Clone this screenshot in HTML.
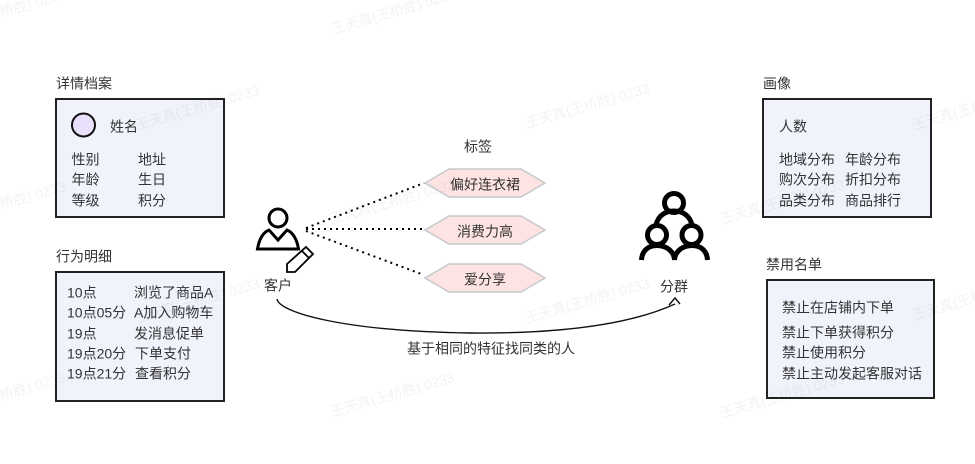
<!DOCTYPE html>
<html><head><meta charset="utf-8"><style>
html,body{margin:0;padding:0;background:#fff}
svg{display:block}
text{font-family:"Liberation Sans","Noto Sans CJK SC",sans-serif;font-size:14px;fill:#333}
text:not(.w){transform:translateY(-0.5px)}
.w{font-size:14px;fill:rgba(0,0,0,.05)}
</style></head><body>
<svg width="975" height="464" viewBox="0 0 975 464" xmlns="http://www.w3.org/2000/svg">

<!-- 详情档案 -->
<text x="56" y="89">详情档案</text>
<rect x="56" y="99" width="168" height="118" fill="#f0f3fc" stroke="#222" stroke-width="2"/>
<circle cx="83.500" cy="125" r="11.500" fill="#e9e0fb" stroke="#111" stroke-width="2"/>
<text x="110" y="132">姓名</text>
<text x="71.500" y="165">性别</text><text x="138" y="165">地址</text>
<text x="71.500" y="185">年龄</text><text x="138" y="185">生日</text>
<text x="71.500" y="206">等级</text><text x="138" y="206">积分</text>

<!-- 行为明细 -->
<text x="56" y="262">行为明细</text>
<rect x="56" y="272" width="168" height="129" fill="#f0f3fc" stroke="#222" stroke-width="2"/>
<text x="67" y="298">10点</text><text x="134" y="298">浏览了商品A</text>
<text x="67" y="318">10点05分</text><text x="134" y="318">A加入购物车</text>
<text x="67" y="339">19点</text><text x="134" y="339">发消息促单</text>
<text x="67" y="359">19点20分</text><text x="135" y="359">下单支付</text>
<text x="67" y="379">19点21分</text><text x="135" y="379">查看积分</text>

<!-- 客户 icon -->
<circle cx="278" cy="218" r="9" fill="none" stroke="#000" stroke-width="3"/>
<path d="M257.500 249 C259 240 262 233 269 230 L278 240 L287 230 C294 233 297 240 298.500 249 Z" fill="none" stroke="#000" stroke-width="3"/>
<path d="M287 272 L287 264 L306 247 L313 254 L295 272 Z" fill="#fff" stroke="#000" stroke-width="1.800"/>
<path d="M302 251 L309 258" fill="none" stroke="#000" stroke-width="1.800"/>
<text x="264" y="291">客户</text>

<!-- dotted lines -->
<g fill="none" stroke="#000" stroke-width="2" stroke-dasharray="2 4">
<path d="M306 228 L424 183"/>
<path d="M306 229 L424 229"/>
<path d="M306 231 L424 275"/>
</g>

<!-- 标签 -->
<text x="464" y="152">标签</text>
<g fill="#fde3e1" stroke="#c6c8cc" stroke-width="1.500">
<polygon points="425,183 449,169 521,169 545,183 521,197 449,197"/>
<polygon points="425,230 449,216 521,216 545,230 521,244 449,244"/>
<polygon points="425,278 449,264 521,264 545,278 521,292 449,292"/>
</g>
<text x="450" y="190">偏好连衣裙</text>
<text x="457" y="237">消费力高</text>
<text x="464" y="285">爱分享</text>

<!-- 分群 icon -->
<g fill="none" stroke="#000" stroke-width="5">
<circle cx="674" cy="203" r="9.500"/>
<circle cx="657" cy="235" r="9.500"/>
<circle cx="691.500" cy="235" r="9.500"/>
<path d="M656 225 C658 216 665 211 674 211 C683 211 690 216 692 225"/>
<path d="M641.500 260 C642 251 648 245.500 657 245.500 C666 245.500 674 251 674.500 260 C675 251 683 245.500 692 245.500 C701 245.500 707 251 707.500 260"/>
</g>
<text x="660" y="292">分群</text>

<!-- curve -->
<path d="M277 299 C279 312 340 331 470 333 C580 334 640 320 675 304" fill="none" stroke="#111" stroke-width="1.400"/>
<path d="M669 305 L675 298 L680 304" fill="none" stroke="#111" stroke-width="1.400"/>
<text x="407" y="354">基于相同的特征找同类的人</text>

<!-- 画像 -->
<text x="763" y="89">画像</text>
<rect x="763" y="99" width="168" height="118" fill="#f0f3fc" stroke="#222" stroke-width="2"/>
<text x="779" y="132">人数</text>
<text x="779" y="165">地域分布</text><text x="845" y="165">年龄分布</text>
<text x="779" y="185">购次分布</text><text x="845" y="185">折扣分布</text>
<text x="779" y="206">品类分布</text><text x="845" y="206">商品排行</text>

<!-- 禁用名单 -->
<text x="766" y="270">禁用名单</text>
<rect x="767" y="280" width="167" height="118" fill="#f0f3fc" stroke="#222" stroke-width="2"/>
<text x="782" y="313">禁止在店铺内下单</text>
<text x="782" y="338">禁止下单获得积分</text>
<text x="782" y="358">禁止使用积分</text>
<text x="782" y="379">禁止主动发起客服对话</text>

<g>
<text class="w" transform="translate(333 34) rotate(-16)">王天真(王桥胜) 0233</text>
<text class="w" transform="translate(527 128) rotate(-16)">王天真(王桥胜) 0233</text>
<text class="w" transform="translate(722 224) rotate(-16)">王天真(王桥胜) 0233</text>
<text class="w" transform="translate(914 130) rotate(-16)">王天真(王桥胜) 0233</text>
<text class="w" transform="translate(137 130) rotate(-16)">王天真(王桥胜) 0233</text>
<text class="w" transform="translate(332 224) rotate(-16)">王天真(王桥胜) 0233</text>
<text class="w" transform="translate(527 323) rotate(-16)">王天真(王桥胜) 0233</text>
<text class="w" transform="translate(722 418) rotate(-16)">王天真(王桥胜) 0233</text>
<text class="w" transform="translate(914 320) rotate(-16)">王天真(王桥胜) 0233</text>
<text class="w" transform="translate(137 323) rotate(-16)">王天真(王桥胜) 0233</text>
<text class="w" transform="translate(332 417) rotate(-16)">王天真(王桥胜) 0233</text>
<text class="w" transform="translate(-57 226) rotate(-16)">王天真(王桥胜) 0233</text>
<text class="w" transform="translate(-57 417) rotate(-16)">王天真(王桥胜) 0233</text>
<text class="w" transform="translate(-57 34) rotate(-16)">王天真(王桥胜) 0233</text>
</g>
</svg>
</body></html>
